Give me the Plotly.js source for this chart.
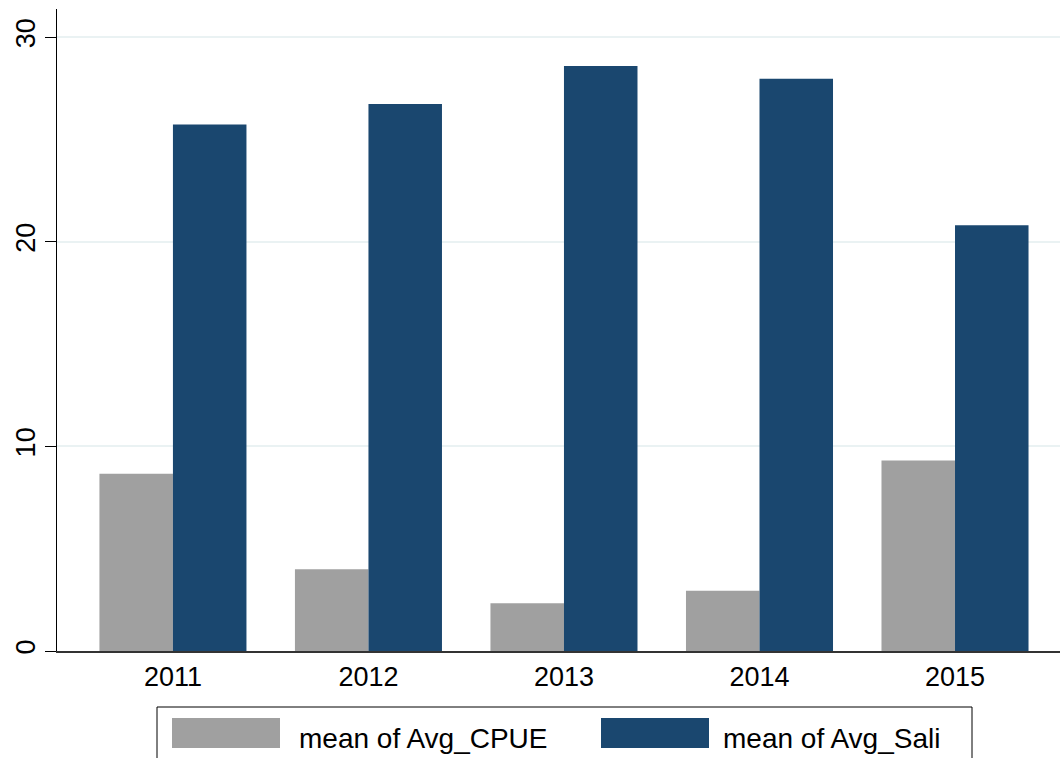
<!DOCTYPE html>
<html>
<head>
<meta charset="utf-8">
<script src="https://cdn.plot.ly/plotly-3.0.1.min.js"></script>
<style>
html,body{margin:0;padding:0;background:#fff;}
#chart{width:1060px;height:758px;}
</style>
</head>
<body>
<div id="chart"></div>
<script>
const years = ["2011", "2012", "2013", "2014", "2015"];
const seriesNames = ["mean of Avg_CPUE", "mean of Avg_Sali"];
const avgCPUE = [8.66, 4.00, 2.34, 2.95, 9.31];
const avgSali = [25.74, 26.74, 28.59, 27.97, 20.81];
const yTicks = [0, 10, 20, 30];
const colors = ["#a0a0a0", "#1a476f"];

const FONT = "Liberation Sans, Arial, Helvetica, sans-serif";

const traces = [
  {type: "bar", x: years, y: avgCPUE, name: seriesNames[0],
   marker: {color: colors[0], line: {width: 0}}, showlegend: false, hoverinfo: "none"},
  {type: "bar", x: years, y: avgSali, name: seriesNames[1],
   marker: {color: colors[1], line: {width: 0}}, showlegend: false, hoverinfo: "none"}
];

// Plot area: x 57..1060 px, y 9..651 px
const L = 57, R = 0, T = 9, B = 107, W = 1060, H = 758;
const pw = W - L - R, ph = H - T - B;
const px = v => (v - L) / pw;
const py = v => (H - B - v) / ph;

const shapes = [
  {type: "rect", xref: "paper", yref: "paper", x0: px(157), x1: px(972), y0: py(707), y1: py(775),
   line: {color: "#000", width: 1}, fillcolor: "rgba(0,0,0,0)", layer: "above"},
  {type: "rect", xref: "paper", yref: "paper", x0: px(172), x1: px(280), y0: py(718), y1: py(748),
   line: {width: 0}, fillcolor: colors[0]},
  {type: "rect", xref: "paper", yref: "paper", x0: px(601), x1: px(709), y0: py(718), y1: py(748),
   line: {width: 0}, fillcolor: colors[1]}
];

const annotations = [
  {xref: "paper", yref: "paper", x: px(297), y: py(738), text: seriesNames[0], showarrow: false,
   xanchor: "left", yanchor: "middle", font: {family: FONT, size: 28, color: "#000"}},
  {xref: "paper", yref: "paper", x: px(721), y: py(738), text: seriesNames[1], showarrow: false,
   xanchor: "left", yanchor: "middle", font: {family: FONT, size: 28, color: "#000"}}
];

const layout = {
  width: W, height: H,
  margin: {l: L, r: R, t: T, b: B, pad: 0},
  paper_bgcolor: "#fff", plot_bgcolor: "#fff",
  barmode: "group", bargap: 0.248, bargroupgap: 0,
  showlegend: false,
  font: {family: FONT, color: "#000"},
  xaxis: {
    type: "category", range: [-0.593, 4.537],
    showline: true, linecolor: "#333", linewidth: 1.5,
    ticks: "", showgrid: false, zeroline: false,
    tickfont: {family: FONT, size: 27, color: "#000"},
    ticklabelstandoff: 1
  },
  yaxis: {
    range: [0, 31.38], tickvals: yTicks, ticktext: yTicks.map(String),
    tickangle: -90,
    showline: true, linecolor: "#000", linewidth: 1,
    ticks: "outside", ticklen: 11, tickcolor: "#000", tickwidth: 1,
    showgrid: true, gridcolor: "#eaf2f3", gridwidth: 2,
    zeroline: false,
    tickfont: {family: FONT, size: 27, color: "#000"},
    ticklabelstandoff: -1
  },
  shapes: shapes,
  annotations: annotations
};

Plotly.newPlot("chart", traces, layout, {displayModeBar: false, staticPlot: true});
</script>
</body>
</html>
